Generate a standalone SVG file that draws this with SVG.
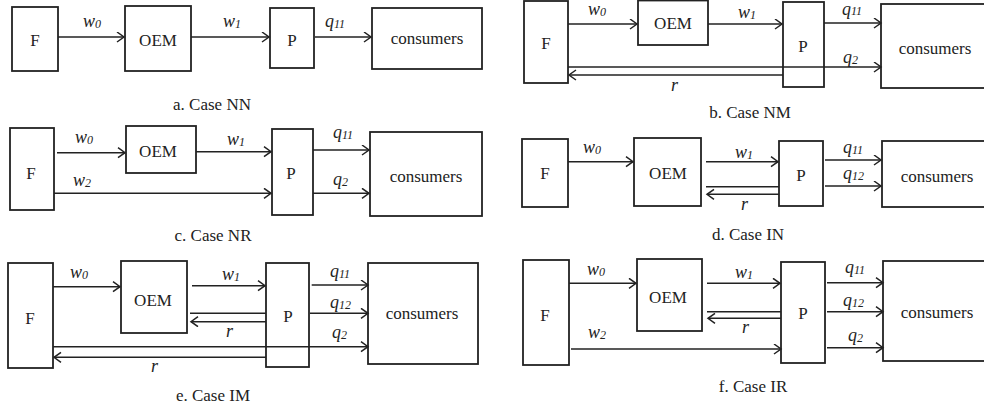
<svg xmlns="http://www.w3.org/2000/svg" width="984" height="408" viewBox="0 0 984 408">
<defs>
<marker id="arr" markerUnits="userSpaceOnUse" markerWidth="12" markerHeight="12" refX="8" refY="5.5" orient="auto">
<path d="M1,0.5 L8,5.5 L1,10.5" fill="none" stroke="#222" stroke-width="1.5"/>
</marker>
<style>
rect{fill:none;stroke:#222;stroke-width:1.8}
.c path{fill:none;stroke:#222;stroke-width:1.5}
.c path.a{marker-end:url(#arr)}
text{font-family:"Liberation Serif","Times New Roman",serif;fill:#222}
.n{font-size:17px;text-anchor:middle}
.cap{font-size:17px;text-anchor:middle}
.l{font-size:18px;font-style:italic}
.s{font-size:12px}
</style>
</defs>
<rect x="0" y="0" width="984" height="408" style="fill:#fff;stroke:none"/>

<!-- Panel a -->
<g id="a-F"><rect x="12" y="7" width="46" height="64"/><text class="n" x="35" y="46">F</text></g>
<g id="a-OEM"><rect x="125" y="6" width="66" height="65"/><text class="n" x="158" y="46">OEM</text></g>
<g id="a-P"><rect x="270" y="8" width="44" height="60"/><text class="n" x="292" y="46">P</text></g>
<g id="a-consumers"><rect x="372" y="8" width="110" height="61"/><text class="n" x="427" y="44">consumers</text></g>
<g id="a-connectors" class="c">
<path class="a" d="M58,37 H124"/>
<path class="a" d="M191,37 H269"/>
<path class="a" d="M315,37 H371"/>
</g>
<text class="l" x="83" y="27">w<tspan class="s" dy="1">0</tspan></text>
<text class="l" x="223" y="27">w<tspan class="s" dy="1">1</tspan></text>
<text class="l" x="325" y="27">q<tspan class="s" dy="1">11</tspan></text>
<text class="cap" x="212" y="110">a. Case NN</text>

<!-- Panel b -->
<g id="b-F"><rect x="524" y="1" width="44" height="82"/><text class="n" x="546" y="49">F</text></g>
<g id="b-OEM"><rect x="638" y="0.5" width="70" height="44.5"/><text class="n" x="673" y="29">OEM</text></g>
<g id="b-P"><rect x="783" y="2" width="41" height="85"/><text class="n" x="803" y="52">P</text></g>
<g id="b-consumers"><rect x="881" y="4" width="112" height="84"/><text class="n" x="935" y="54">consumers</text></g>
<g id="b-connectors" class="c">
<path class="a" d="M568,24 H637"/>
<path class="a" d="M708,24 H782"/>
<path class="a" d="M824,23 H881"/>
<path class="a" d="M568,67 H881"/>
<path class="a" d="M783,75 H569"/>
</g>
<text class="l" x="588" y="15">w<tspan class="s" dy="1">0</tspan></text>
<text class="l" x="738" y="18">w<tspan class="s" dy="1">1</tspan></text>
<text class="l" x="842" y="15">q<tspan class="s" dy="0">11</tspan></text>
<text class="l" x="843" y="63">q<tspan class="s" dy="1">2</tspan></text>
<text class="l" x="671" y="91">r</text>
<text class="cap" x="750" y="118">b. Case NM</text>

<!-- Panel c -->
<g id="c-F"><rect x="10" y="128" width="44" height="82"/><text class="n" x="31" y="179">F</text></g>
<g id="c-OEM"><rect x="126" y="126" width="70" height="47"/><text class="n" x="158" y="157">OEM</text></g>
<g id="c-P"><rect x="272" y="129" width="41" height="86"/><text class="n" x="291" y="179">P</text></g>
<g id="c-consumers"><rect x="370" y="132" width="112" height="84"/><text class="n" x="426" y="182">consumers</text></g>
<g id="c-connectors" class="c">
<path class="a" d="M57,152.7 H125"/>
<path class="a" d="M196,151.7 H271"/>
<path class="a" d="M54,193.3 H271"/>
<path class="a" d="M313,150 H369"/>
<path class="a" d="M313,193.3 H369"/>
</g>
<text class="l" x="75" y="143">w<tspan class="s" dy="1">0</tspan></text>
<text class="l" x="227" y="145">w<tspan class="s" dy="1">1</tspan></text>
<text class="l" x="73" y="186">w<tspan class="s" dy="1">2</tspan></text>
<text class="l" x="333" y="138">q<tspan class="s" dy="1">11</tspan></text>
<text class="l" x="333" y="185">q<tspan class="s" dy="1">2</tspan></text>
<text class="cap" x="213" y="241">c. Case NR</text>

<!-- Panel d -->
<g id="d-F"><rect x="522" y="139" width="46" height="68"/><text class="n" x="545" y="179">F</text></g>
<g id="d-OEM"><rect x="634" y="138" width="67" height="68"/><text class="n" x="668" y="179">OEM</text></g>
<g id="d-P"><rect x="779" y="141" width="44" height="65"/><text class="n" x="801" y="181">P</text></g>
<g id="d-consumers"><rect x="882" y="141" width="110" height="66"/><text class="n" x="937" y="182">consumers</text></g>
<g id="d-connectors" class="c">
<path class="a" d="M568,161.7 H633"/>
<path class="a" d="M706,161.7 H778"/>
<path d="M706,186.7 H779"/>
<path class="a" d="M779,194.3 H707"/>
<path class="a" d="M825,160 H881"/>
<path class="a" d="M825,186 H881"/>
</g>
<text class="l" x="583" y="153">w<tspan class="s" dy="1">0</tspan></text>
<text class="l" x="735" y="158">w<tspan class="s" dy="1">1</tspan></text>
<text class="l" x="843" y="153">q<tspan class="s" dy="1">11</tspan></text>
<text class="l" x="843" y="179">q<tspan class="s" dy="1">12</tspan></text>
<text class="l" x="741" y="210">r</text>
<text class="cap" x="748" y="240">d. Case IN</text>

<!-- Panel e -->
<g id="e-F"><rect x="8" y="263" width="45" height="105"/><text class="n" x="30" y="324">F</text></g>
<g id="e-OEM"><rect x="121" y="261" width="66" height="72"/><text class="n" x="153" y="306">OEM</text></g>
<g id="e-P"><rect x="266" y="263" width="43" height="104"/><text class="n" x="288" y="322">P</text></g>
<g id="e-consumers"><rect x="368" y="263" width="110" height="101"/><text class="n" x="422" y="319">consumers</text></g>
<g id="e-connectors" class="c">
<path class="a" d="M53,286.7 H120"/>
<path class="a" d="M192,285.7 H265"/>
<path d="M190,313.3 H266"/>
<path class="a" d="M266,321.7 H191"/>
<path class="a" d="M311.7,285 H368"/>
<path class="a" d="M310,313.3 H368"/>
<path class="a" d="M53,346.7 H368"/>
<path class="a" d="M266,357.3 H54"/>
</g>
<text class="l" x="70" y="278">w<tspan class="s" dy="1">0</tspan></text>
<text class="l" x="222" y="280">w<tspan class="s" dy="1">1</tspan></text>
<text class="l" x="330" y="277">q<tspan class="s" dy="1">11</tspan></text>
<text class="l" x="330" y="308">q<tspan class="s" dy="1">12</tspan></text>
<text class="l" x="226" y="337">r</text>
<text class="l" x="332" y="338">q<tspan class="s" dy="1">2</tspan></text>
<text class="l" x="151" y="372">r</text>
<text class="cap" x="213" y="401">e. Case IM</text>

<!-- Panel f -->
<g id="f-F"><rect x="523" y="260" width="46" height="105"/><text class="n" x="545" y="321">F</text></g>
<g id="f-OEM"><rect x="637" y="259" width="65" height="72"/><text class="n" x="668" y="303">OEM</text></g>
<g id="f-P"><rect x="781" y="262" width="44" height="101"/><text class="n" x="803" y="319">P</text></g>
<g id="f-consumers"><rect x="883" y="261" width="110" height="100"/><text class="n" x="937" y="318">consumers</text></g>
<g id="f-connectors" class="c">
<path class="a" d="M569,283.3 H636"/>
<path class="a" d="M707,283.3 H780"/>
<path d="M707,311.7 H781"/>
<path class="a" d="M781,318.3 H708"/>
<path class="a" d="M571,349 H781"/>
<path class="a" d="M827,282.7 H883"/>
<path class="a" d="M827,311.7 H883"/>
<path class="a" d="M827,347.7 H883"/>
</g>
<text class="l" x="587" y="275">w<tspan class="s" dy="1">0</tspan></text>
<text class="l" x="735" y="278">w<tspan class="s" dy="1">1</tspan></text>
<text class="l" x="845" y="273">q<tspan class="s" dy="1">11</tspan></text>
<text class="l" x="843" y="306">q<tspan class="s" dy="1">12</tspan></text>
<text class="l" x="742" y="333">r</text>
<text class="l" x="588" y="338">w<tspan class="s" dy="1">2</tspan></text>
<text class="l" x="848" y="341">q<tspan class="s" dy="1">2</tspan></text>
<text class="cap" x="753" y="392">f. Case IR</text>
</svg>
